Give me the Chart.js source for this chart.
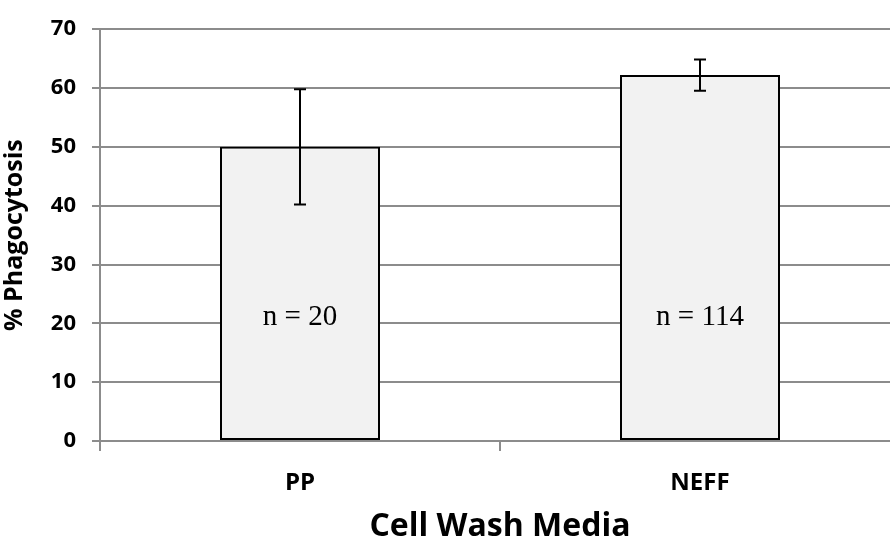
<!DOCTYPE html>
<html>
<head>
<meta charset="utf-8">
<script src="https://cdn.jsdelivr.net/npm/chart.js@4.4.0/dist/chart.umd.min.js"></script>
<style>
  html, body { margin: 0; padding: 0; background: #fff; overflow: hidden; }
  #wrap { width: 910px; height: 546px; }
</style>
</head>
<body>
<div id="wrap"><canvas id="myChart" width="910" height="546"></canvas></div>
<script>
// datos del grafico
const categories = ['PP', 'NEFF'];
const meanValues = [50, 62.2];
const errorValues = [9.8, 2.65];
const sampleLabels = ['n = 20', 'n = 114'];
const sampleLabelY = [21, 21];
const yMin = 0;
const yMax = 70;
const yStep = 10;

const gridGray = '#8c8c8c';

// barras de error y etiquetas n
const errorBarsPlugin = {
    id: 'errorBars',
    afterDatasetsDraw(chart) {
        const ctx = chart.ctx;
        const meta = chart.getDatasetMeta(0);
        const y = chart.scales.y;
        ctx.save();
        meta.data.forEach((bar, i) => {
            const top = y.getPixelForValue(meanValues[i] + errorValues[i]);
            const bot = y.getPixelForValue(meanValues[i] - errorValues[i]);
            ctx.strokeStyle = '#000';
            ctx.lineWidth = 2;
            ctx.beginPath();
            ctx.moveTo(bar.x, top);
            ctx.lineTo(bar.x, bot);
            ctx.moveTo(bar.x - 6, top);
            ctx.lineTo(bar.x + 6, top);
            ctx.moveTo(bar.x - 6, bot);
            ctx.lineTo(bar.x + 6, bot);
            ctx.stroke();

            ctx.fillStyle = '#000';
            ctx.font = '29px "Liberation Serif", serif';
            ctx.textAlign = 'center';
            ctx.textBaseline = 'middle';
            ctx.fillText(sampleLabels[i], bar.x, y.getPixelForValue(sampleLabelY[i]));
        });
        ctx.restore();
    }
};

const ctx = document.getElementById('myChart');
const myChart = new Chart(ctx, {
    type: 'bar',
    data: {
        labels: categories,
        datasets: [{
            data: meanValues,
            backgroundColor: '#f2f2f2',
            borderColor: '#000',
            borderWidth: 2,
            borderSkipped: false,
            categoryPercentage: 1,
            barPercentage: 0.4
        }]
    },
    options: {
        responsive: false,
        animation: false,
        layout: { padding: { top: 25, right: 10, left: 0, bottom: 0 } },
        plugins: {
            legend: { display: false },
            tooltip: { enabled: false }
        },
        scales: {
            x: {
                grid: {
                    offset: true,
                    drawOnChartArea: false,
                    color: gridGray,
                    lineWidth: 2,
                    tickLength: 10
                },
                border: { color: gridGray, width: 2 },
                ticks: {
                    color: '#000',
                    padding: 18,
                    font: { family: '"Open Sans", sans-serif', size: 24, weight: 'bold' }
                },
                title: {
                    display: true,
                    text: 'Cell Wash Media',
                    color: '#000',
                    padding: { top: 8, bottom: 0 },
                    font: { family: '"Open Sans", sans-serif', size: 32, weight: 'bold' }
                },
                afterFit(scale) { scale.height = 105; }
            },
            y: {
                min: yMin,
                max: yMax,
                ticks: {
                    stepSize: yStep,
                    color: '#000',
                    padding: 16,
                    font: { family: '"Open Sans", sans-serif', size: 22, weight: 'bold' }
                },
                grid: {
                    color: gridGray,
                    lineWidth: 2,
                    tickLength: 8
                },
                border: { color: gridGray, width: 2 },
                title: {
                    display: true,
                    text: '% Phagocytosis',
                    color: '#000',
                    padding: { top: 0, bottom: 6 },
                    font: { family: '"Open Sans", sans-serif', size: 25, weight: 'bold' }
                },
                afterFit(scale) { scale.width = 100; }
            }
        }
    },
    plugins: [errorBarsPlugin]
});
</script>
</body>
</html>
